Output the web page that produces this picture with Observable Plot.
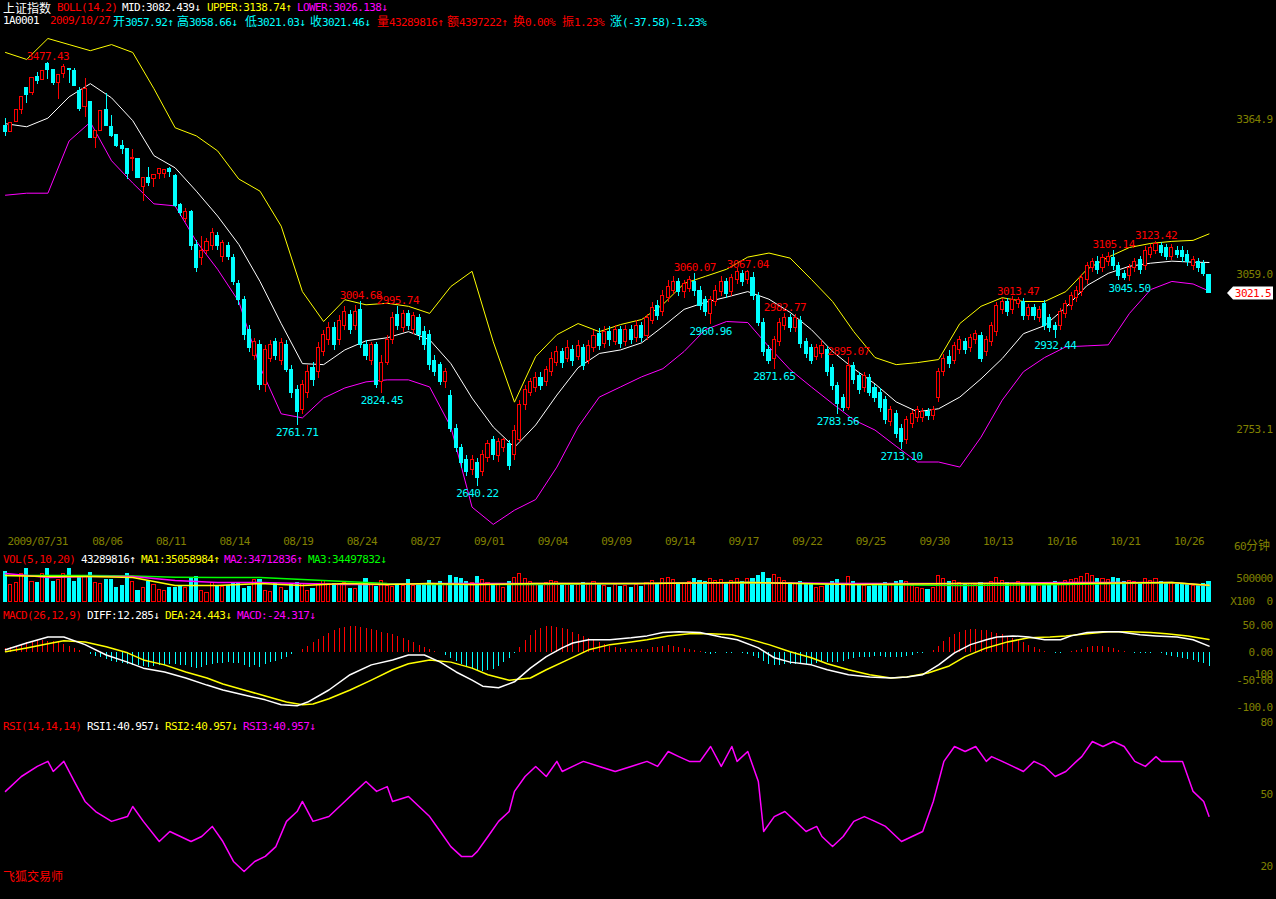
<!DOCTYPE html>
<html><head><meta charset="utf-8">
<script src="https://cdn.jsdelivr.net/npm/d3@7"></script>
<script src="https://cdn.jsdelivr.net/npm/@observablehq/plot@0.6"></script>
<style>
html,body{margin:0;padding:0;background:#000;overflow:hidden}
#root{position:relative;width:1276px;height:899px;background:#000;overflow:hidden}
.t{position:absolute;white-space:pre;font-family:"DejaVu Sans Mono",monospace;font-size:11px;letter-spacing:-0.6px;line-height:13px;height:13px}
.t .c{font-family:"Noto Sans CJK SC",sans-serif;font-size:12px;letter-spacing:0}
</style></head><body><div id="root"></div>
<script>
const RED="#ff0000", CYAN="#00ffff", YEL="#ffff00", MAG="#ff00ff", GRN="#00ff00", WHITE="#ffffff", OLIVE="#808000";

// ---------------- data (60-minute bars, 2009/07/31 .. 2009/10/27) ----------------
const open = [3352,3338.7,3358.5,3383.7,3427.2,3416,3447.6,3442.5,3472.8,3461,3435.8,3454.4,3463,3459,3421.3,3388.2,3398.2,3326.9,3342.1,3383,3350,3333.6,3312.4,3305.9,3286.1,3287.3,3231.2,3249.6,3247.7,3256.4,3256.4,3266.3,3253,
 3195,3169,3181,3116,3091,3106,3114,3134,
 3094,3114,3091,3039,3008,2949,2899,2919,2840,2893,
 2925,2889,2919,2870,2830,2791,2826,2874,2866,2905,
 2929,2953,2929,2958,2978,2957,2988,2919,2889,2919,
 2846,2885,2929,2978,2953,2980,2949,2972,2945,2939,
 2889,2880,2846,2820,2755,2716,2692,2673,2688,2669,
 2696,2732,2700,2716,2724,2702,2732,2801,2826,2834,
 2854,2846,2866,2885,2905,2893,2909,2897,2913,2889,
 2913,2941,2921,2945,2925,2949,2925,2949,2933,2957,
 2937,2968,2996,2984,3012,3027,3043,3024,3031,3043,
 3027,3008,2980,3004,3024,3043,3024,3047,3059,3047,
 3051,3016,2964,2909,2893,2925,2957,2972,2953,2968,
 2925,2913,2897,2901,2909,2874,2838,2815,2795,2878,
 2858,2834,2854,2834,2826,2811,2767,2783,2755,2732,
 2763,2775,2775,2787,2779,2815,2866,2897,2889,2909,
 2925,2913,2929,2937,2905,2925,2945,2988,3004,2988,
 3000,3004,2976,2992,2972,3000,2972,2957,2957,2980,
 2996,3012,3024,3047,3071,3083,3071,3083,3091,3075,
 3059,3055,3071,3087,3075,3098,3106,3114,3110,3094,
 3106,3106,3098,3075,3083,3079,3057.92];
const high = [3366,3357,3383,3409.4,3427.2,3447,3456.4,3459,3477.4,3461,3453,3472.2,3463,3464.9,3427.8,3445.7,3398.2,3342.1,3383,3414.8,3371.8,3333.6,3322.3,3306,3304.5,3288,3248.4,3269.4,3254.4,3266.3,3266.3,3269.4,3255,
 3199,3189,3185,3126,3134,3130,3150,3142,
 3126,3122,3098,3047,3016,2958,2933,2929,2919,2929,
 2933,2933,2929,2880,2840,2850,2880,2885,2925,2949,
 2964,2964,2978,2996,2988,2998,3004.68,2929,2925,2925,
 2899,2939,2984,2995.74,2988,2988,2984,2980,2957,2949,
 2899,2885,2874,2830,2763,2724,2702,2702,2696,2712,
 2732,2740,2736,2736,2732,2761,2811,2840,2854,2866,
 2866,2878,2905,2917,2913,2929,2919,2929,2921,2929,
 2949,2953,2957,2957,2958,2957,2958,2958,2968,2964,
 2980,3004,3008,3027,3047,3055,3051,3047,3055,3060.07,
 3035,3016,3016,3037,3055,3051,3059,3071,3067,3067.04,
 3063,3024,2972,2919,2937,2972,2982.77,2980,2980,2976,
 2933,2921,2921,2929,2917,2882,2846,2822,2895.07,2885,
 2866,2866,2862,2842,2834,2818,2799,2791,2763,2779,
 2791,2799,2795,2795,2799,2874,2901,2909,2925,2937,
 2933,2941,2949,2945,2937,2964,3004,3012,3012,3016,
 3013.47,3012,3000,3000,2996,3008,2980,2964,2992,3008,
 3024,3035,3059,3083,3091,3094,3098,3102,3105.14,3083,
 3067,3079,3091,3094,3114,3118,3123.42,3122,3118,3118,
 3114,3114,3106,3094,3091,3087,3058.66];
const low = [3330.2,3338.7,3358.5,3373.8,3396.2,3410.8,3432.6,3442.5,3442.5,3431.2,3402.9,3445.7,3434.6,3431.2,3379.7,3368.4,3328.8,3307.8,3342.1,3350,3328.8,3309,3296,3246.5,3261.5,3249,3203.5,3231.8,3229.8,3246.5,3247.7,3249.6,3190,
 3173,3162,3106,3063,3077,3098,3106,3106,
 3083,3087,3037,2998,2929,2905,2889,2830,2826,2885,
 2889,2880,2866,2815,2761.71,2783,2815,2838,2854,2897,
 2919,2909,2919,2949,2941,2949,2913,2889,2880,2834,
 2824.45,2880,2921,2949,2945,2949,2941,2929,2909,2870,
 2858,2840,2834,2747,2708,2676,2661,2663,2640.22,2661,
 2688,2692,2688,2708,2673,2692,2728,2791,2818,2826,
 2830,2838,2858,2878,2874,2885,2878,2889,2870,2882,
 2905,2909,2913,2917,2919,2913,2917,2921,2925,2925,
 2929,2960,2968,2976,3004,3020,3016,3012,3024,3016,
 2988,2976,2960.96,2996,3016,3012,3016,3039,3035,3039,
 3008,2956,2897,2882,2871.65,2917,2949,2945,2945,2913,
 2893,2882,2889,2893,2858,2830,2783.56,2789,2791,2842,
 2822,2826,2818,2807,2787,2763,2759,2736,2713.10,2724,
 2755,2767,2767,2771,2771,2807,2858,2874,2882,2901,
 2901,2905,2921,2885,2897,2917,2937,2980,2976,2980,
 2992,2968,2968,2968,2964,2949,2945,2932.44,2949,2972,
 2988,3004,3016,3039,3063,3059,3063,3075,3067,3047,
 3047,3045.50,3063,3059,3067,3091,3098,3094,3087,3087,
 3091,3083,3075,3067,3063,3055,3021.03];
const close = [3340,3356.5,3383,3409.4,3413.4,3447,3441,3459,3462.3,3435.8,3453,3468.8,3461.5,3431.2,3385,3424.7,3328.8,3342.1,3381.7,3352,3332.2,3312.4,3307,3257.5,3289.2,3249.6,3248.4,3239.7,3254.4,3266.3,3264.9,3261.5,3193.6,
 3179,3181,3114,3071,3106,3122,3140,3114,
 3120,3094,3043,3008,2939,2913,2925,2840,2909,2919,
 2899,2923,2870,2826,2787,2840,2866,2850,2913,2939,
 2953,2919,2968,2984,2949,2984,2919,2899,2919,2840,
 2885,2929,2972,2958,2980,2957,2976,2939,2919,2880,
 2866,2846,2866,2755,2716,2688,2669,2692,2657,2702,
 2724,2702,2728,2732,2682,2751,2801,2830,2846,2854,
 2838,2870,2893,2905,2885,2913,2889,2917,2878,2917,
 2937,2917,2945,2929,2949,2921,2949,2929,2958,2933,
 2972,2992,2976,3016,3035,3043,3024,3039,3047,3027,
 2996,2984,3008,3027,3043,3020,3051,3063,3043,3063,
 3016,2964,2905,2889,2929,2964,2972,2953,2972,2921,
 2901,2889,2913,2917,2866,2838,2803,2795,2878,2850,
 2830,2858,2826,2815,2795,2771,2791,2744,2728,2771,
 2783,2791,2787,2779,2791,2866,2893,2882,2917,2929,
 2909,2933,2941,2893,2929,2957,2996,3004,2984,3008,
 3008,2976,2992,2976,2988,2957,2953,2949,2984,3000,
 3016,3027,3051,3075,3083,3067,3091,3094,3075,3055,
 3051,3071,3083,3067,3106,3110,3118,3102,3094,3110,
 3098,3094,3083,3087,3071,3059,3021.46];
// volume in lots of 100 shares
const volume = [652e3,348e3,413e3,587e3,696e3,420e3,413e3,594e3,717e3,420e3,478e3,587e3,696e3,420e3,515e3,529e3,616e3,398e3,370e3,471e3,
 457e3,290e3,341e3,587e3,420e3,239e3,283e3,428e3,348e3,254e3,239e3,283e3,283e3,326e3,283e3,515e3,522e3,239e3,188e3,413e3,
 341e3,326e3,341e3,413e3,413e3,261e3,326e3,457e3,457e3,239e3,210e3,370e3,283e3,225e3,370e3,413e3,384e3,239e3,261e3,384e3,
 435e3,370e3,370e3,370e3,413e3,261e3,261e3,362e3,500e3,355e3,326e3,435e3,341e3,319e3,341e3,341e3,478e3,334e3,334e3,
 380e3,450e3,390e3,420e3,350e3,560e3,520e3,480e3,430e3,400e3,540e3,470e3,
 400e3,350e3,380e3,300e3,420e3,520e3,600e3,480e3,420e3,380e3,
 350e3,400e3,450e3,420e3,330e3,380e3,340e3,360e3,400e3,380e3,420e3,350e3,
 330e3,300e3,350e3,320e3,340e3,300e3,360e3,320e3,400e3,450e3,380e3,480e3,
 520e3,460e3,400e3,380e3,420e3,500e3,450e3,420e3,480e3,440e3,460e3,400e3,450e3,480e3,420e3,500e3,
 480e3,560e3,620e3,500e3,580e3,520e3,450e3,400e3,380e3,420e3,380e3,360e3,300e3,320e3,380e3,420e3,460e3,380e3,540e3,420e3,
 360e3,340e3,320e3,330e3,350e3,400e3,380e3,420e3,450e3,430e3,330e3,300e3,280e3,260e3,290e3,560e3,500e3,420e3,440e3,400e3,
 360e3,380e3,350e3,400e3,380e3,420e3,520e3,440e3,400e3,380e3,420e3,400e3,360e3,340e3,330e3,380e3,360e3,420e3,400e3,440e3,
 460e3,480e3,540e3,600e3,560e3,480e3,500e3,460e3,520e3,480e3,420e3,440e3,420e3,400e3,480e3,450e3,500e3,420e3,380e3,400e3,360e3,380e3,360e3,340e3,330e3,380e3,432.9e3];

const bollBars = [0,4,8,12,16,20,24,28,32,36,40,44,48,52,56,60,64,68,72,76,80,84,88,92,96,100,104,108,112,116,120,124,128,132,136,140,144,148,152,156,160,164,168,172,176,180,184,188,192,196,200,204,208,212,216,220,224,227];
const bollUpper = [3496.5,3482.7,3524,3512,3500,3512,3496.5,3425,3348,3332,3302.5,3247,3223,3154,3025,2966,3009,2999,3002,2996,2982,3035,3065,2926,2807,2897,2940,2962,2946,2960,2970,2999.6,3041,3055,3069,3093,3101,3091,3049,3005.5,2946,2895,2881,2885,2891,2962,2996,3013,3005.5,3005.5,3025,3069,3093,3112,3120,3124,3126,3138.7];
const bollMid = [3356,3350,3367,3409,3435,3407,3362,3293,3269,3223,3174,3118,3045,2962,2883,2881,2910,2928,2934,2946,2930,2883,2815,2758,2718,2762,2821,2875,2903,2910,2924,2956,2990,3004,3014,3025,3010,2984,2950,2907,2873,2843,2807.5,2788,2794,2817,2853,2893,2942,2958,2994,3037,3061,3075,3081,3085,3083,3082.4];
const bollLower = [3215,3219,3219,3322,3359,3283,3239,3198,3194,3124,3069,3005.5,2877,2784,2776,2815,2835,2847,2851,2851,2837,2758,2600,2566,2594,2615,2679,2758,2817,2837,2857,2873,2907,2950,2966,2964,2916,2871,2837,2804,2772,2752,2720,2689,2689,2679,2738,2811,2867,2895,2916,2918,2920,2982,3029,3045,3040,3026.1];

const volMaBars = [0,8,16,24,32,40,48,56,64,72,80,88,100,120,140,160,180,200,220,227];
const volMa1 = [565e3,544e3,544e3,522e3,348e3,348e3,391e3,348e3,391e3,370e3,391e3,370e3,391e3,391e3,413e3,370e3,391e3,391e3,413e3,350.6e3];
const volMa2 = [609e3,522e3,544e3,544e3,457e3,413e3,413e3,391e3,370e3,370e3,391e3,391e3,391e3,391e3,413e3,391e3,391e3,413e3,413e3,347.1e3];
const volMa3 = [565e3,565e3,565e3,554e3,528e3,522e3,522e3,478e3,435e3,391e3,370e3,370e3,370e3,391e3,413e3,370e3,348e3,370e3,413e3,345e3];

// MACD histogram, one value per bar
const macdHist = [8,10,12,15,18,20,22,22,21,20,18,15,12,8,4,1,
 -3,-6,-9,-12,-15,-18,-20,-22,-23,-24,-25,-26,-25,-24,-24,-22,-22,-23,-24,-26,-28,-26,-24,-22,-20,-19,-18,-19,-20,-24,-26,-24,-26,-22,-18,-15,-12,-8,
 -3,0,6,12,18,24,30,36,40,44,47,48,49,47,45,42,40,38,36,34,30,26,22,18,14,10,6,3,0,
 -5,-10,-16,-22,-27,-30,-33,-35,-33,-30,-25,-18,-10,
 -2,10,22,32,40,45,48,48,47,45,42,38,34,30,26,22,18,
 15,12,10,8,7,6,6,6,7,9,10,12,13,12,10,8,6,4,2,
 -1,-3,-2,0,-2,-1,0,-2,-3,-6,
 -10,-16,-22,-24,-24,-22,-22,-21,-22,-22,-21,-19,-17,-17,-18,-18,-16,-12,-10,-9,-8,-8,-7,-7,-8,-8,-8,-8,-6,-4,-2,-1,0,
 4,12,20,28,34,38,40,42,42,40,40,38,36,34,30,26,22,18,14,10,6,
 3,0,-2,-2,0,2,4,7,10,12,12,12,10,8,5,2,0,-1,-2,-2,-1,0,-2,-4,-6,-8,-10,-12,-14,-17,-20,-24.317];
const macdBars = [0,4,8,11,15,19,23,26,30,34,38,41,45,49,52,55,57,61,65,69,73,76,79,82,85,88,90,93,96,99,102,105,107,110,114,118,121,124,127,131,135,138,142,145,148,152,155,159,163,167,170,173,176,179,182,185,187,190,193,196,199,201,204,207,210,214,217,221,224,227];
const diff = [5.5,18,29,29,15,-4,-17,-28,-35,-46,-59,-68,-77,-86,-95,-97,-90,-68,-40,-22,-13,-4,-4,-17,-35,-50,-61,-64,-53,-28,-7,9,18,24,24,27.5,31,37,38.5,37,29,24,9,-9,-17,-22,-31,-40,-44,-46,-44,-40,-22,0,15,24,29,31,29,24,24,31,37,38.5,38.5,33,31,29,24,12.285];
const deaBars = [0,4,8,11,15,19,23,26,30,34,38,41,45,49,53,56,58,61,65,69,73,76,80,84,88,91,95,99,102,106,110,114,118,121,125,129,133,137,140,144,148,152,155,159,163,167,170,174,178,181,185,189,193,197,200,204,208,212,216,219,223,227];
const dea = [2,9,16.5,22,20,11,0,-13,-22,-35,-46,-57,-68,-79,-90,-95,-93.6,-84,-68,-50,-31,-20,-13,-17,-28,-40,-50,-46,-31,-13,5.5,15,20,24,31,35,35,33,26,15,2,-9,-20,-31,-40,-46,-44,-37,-24,-7,9,20,27.5,29,31,35,38.5,38.5,37,35,31,24.443];

const rsiBars = [0,3,6,8,9,11,13,15,17,20,23,24,26,29,31,33,35,37,39,41,43,45,47,49,51,53,55,56,58,61,64,66,68,70,72,73,76,78,80,82,84,86,88,89,91,93,95,96,98,100,102,104,105,107,109,112,115,118,121,123,125,127,129,131,133,135,137,138,140,142,143,145,147,149,151,153,154,156,158,160,162,164,166,168,169,171,173,175,177,179,181,183,185,186,188,190,192,194,196,198,200,202,203,205,207,209,211,213,215,217,218,220,222,224,226,227];
const rsi = [51.3,57.5,61.7,63.8,59.6,63.8,55.4,47.1,42.9,38.8,40.8,45,38.8,30.4,34.6,32.5,30.4,32.5,36.7,30.4,22.1,17.9,22.1,24.2,28.3,38.8,42.9,47.1,38.8,40.8,47.1,51.3,55.4,51.3,53.3,47.1,49.2,45,40.8,34.6,28.3,24.2,24.2,26.3,32.5,38.8,42.9,51.3,57.5,61.7,57.5,63.8,59.6,61.7,63.8,61.7,59.6,61.7,63.8,61.7,67.9,65.8,63.8,63.8,70,61.7,70,63.8,67.9,55.4,34.6,40.8,42.9,38.8,34.6,36.7,32.5,28.3,32.5,38.8,40.8,38.8,36.7,32.5,30.4,32.5,34.6,47.1,63.8,70,67.9,70,63.8,65.8,63.8,61.7,59.6,63.8,61.7,57.5,59.6,63.8,65.8,72.1,70,72.1,70,63.8,61.7,65.8,63.8,63.8,63.8,51.3,47.1,40.957];

const extremeBars = [8,55,67,74,71,89,130,140,133,147,145,159,157,169,191,198,209,217,212];
const extremeVals = [3477.43,2761.71,3004.68,2995.74,2824.45,2640.22,3060.07,3067.04,2960.96,2982.77,2871.65,2895.07,2783.56,2713.10,3013.47,2932.44,3105.14,3123.42,3045.50];
const extremeIsHigh = [true,false,true,true,false,false,true,true,false,true,false,true,false,false,true,false,true,true,false];

const dateLabels = ["2009/07/31","08/06","08/11","08/14","08/19","08/24","08/27","09/01","09/04","09/09","09/14","09/17","09/22","09/25","09/30","10/13","10/16","10/21","10/26"];
const dateBars = [0,16,28,40,52,64,76,88,100,112,124,136,148,160,172,184,196,208,220];
const priceTicks = [3364.9, 3059.0, 2753.1];
const lastClose = 3021.46;
const volTicks = [500000, 0];
const macdTicks = [50, 0, -50, -100];
const rsiTicks = [100, 80, 50, 20];

// ---------------- layout ----------------
const root = document.getElementById("root");
const W = 1276;
const xOpt = {type:"linear", domain:[0,227], range:[5,1208.5], axis:null};
const FONT = {fontFamily:"DejaVu Sans Mono", fontSize:11};
const baseStyle = {background:"transparent", overflow:"visible", letterSpacing:"-0.6px"};

function place(svg, top){
  svg.style.position="absolute"; svg.style.left="0px"; svg.style.top=top+"px";
  root.appendChild(svg);
}
function addText(x, yc, color, s){
  const d=document.createElement("div"); d.className="t";
  d.style.left=x+"px"; d.style.top=(yc-6.5)+"px"; d.style.color=color;
  d.innerHTML=s.replace(/[\u2E80-\u9FFF\uFF00-\uFFEF]/g, ch=>`<span class="c">${ch}</span>`);
  root.appendChild(d);
}

const candles = open.map((o,i)=>({i, o, h:high[i], l:low[i], c:close[i], up: close[i]>=o}));
const boll = bollBars.map((b,k)=>({b, u:bollUpper[k], m:bollMid[k], l:bollLower[k]}));
const vols = volume.map((v,i)=>({i, v, up: candles[i].up}));
const volMa = volMaBars.map((b,k)=>({b, a:volMa1[k], m:volMa2[k], g:volMa3[k]}));
const hist = macdHist.map((v,i)=>({i, v}));
const extremes = extremeBars.map((b,k)=>({b, v:extremeVals[k], hi:extremeIsHigh[k]}));

// price panel
const TOP_P=28, H_P=524;
place(Plot.plot({
  width:W, height:H_P, margin:0, marginRight:4,
  x:xOpt, y:{domain:[2753.1,3364.9], range:[429-TOP_P,118.7-TOP_P], axis:null},
  style:baseStyle,
  marks:[
    Plot.line(boll, {x:"b", y:"u", stroke:YEL, strokeWidth:1}),
    Plot.line(boll, {x:"b", y:"m", stroke:WHITE, strokeWidth:1}),
    Plot.line(boll, {x:"b", y:"l", stroke:MAG, strokeWidth:1}),
    Plot.ruleX(candles, {x:"i", y1:"l", y2:"h", stroke:d=>d.up?RED:CYAN, shapeRendering:"crispEdges"}),
    Plot.rect(candles, {x1:d=>d.i-0.5, x2:d=>d.i+0.5, y1:"o", y2:"c", insetLeft:1.1, insetRight:1.1,
      fill:d=>d.up?"#000":CYAN, stroke:d=>d.up?RED:CYAN, shapeRendering:"crispEdges"}),
    Plot.text(extremes.filter(d=>d.hi), {x:"b", y:"v", text:d=>d.v.toFixed(2), fill:RED, dy:-6, ...FONT}),
    Plot.text(extremes.filter(d=>!d.hi), {x:"b", y:"v", text:d=>d.v.toFixed(2), fill:CYAN, dy:7, ...FONT}),
    Plot.text(priceTicks, {y:d=>d, text:d=>d.toFixed(1), frameAnchor:"right", textAnchor:"end", fill:OLIVE, ...FONT}),
    Plot.text(dateBars, {x:d=>d, text:(d,k)=>dateLabels[k], frameAnchor:"bottom", textAnchor:"start", dx:2, dy:-8, fill:OLIVE, ...FONT}),
    (index, scales, values, dims) => {
      const y = scales.y(lastClose), R = dims.width - 3;
      const g = d3.create("svg:g");
      g.append("path").attr("d",`M${R-46},${y} L${R-40},${y-6.5} L${R},${y-6.5} L${R},${y+6.5} L${R-40},${y+6.5} Z`).attr("fill","#fff");
      g.append("text").attr("x",R-2).attr("y",y).attr("dy","0.35em").attr("text-anchor","end")
        .attr("fill",RED).attr("font-family","DejaVu Sans Mono").attr("font-size",11).text(lastClose.toFixed(1));
      return g.node();
    }
  ]
}), TOP_P);

// volume panel
const TOP_V=565, H_V=40;
place(Plot.plot({
  width:W, height:H_V, margin:0, marginRight:4,
  x:xOpt, y:{domain:[0,500000], range:[601-TOP_V,578-TOP_V], axis:null},
  style:baseStyle,
  marks:[
    Plot.rect(vols, {x1:d=>d.i-0.5, x2:d=>d.i+0.5, y1:()=>0, y2:"v", insetLeft:1.1, insetRight:1.1,
      fill:d=>d.up?"#000":CYAN, stroke:d=>d.up?RED:CYAN, shapeRendering:"crispEdges"}),
    Plot.line(volMa, {x:"b", y:"g", stroke:GRN}),
    Plot.line(volMa, {x:"b", y:"m", stroke:MAG}),
    Plot.line(volMa, {x:"b", y:"a", stroke:YEL}),
    Plot.text(volTicks, {y:d=>d, text:d=>d===0?"X100  0":String(d), frameAnchor:"right", textAnchor:"end", fill:OLIVE, ...FONT})
  ]
}), TOP_V);

// MACD panel
const TOP_M=618, H_M=95;
const diffD = macdBars.map((b,k)=>({b, v:diff[k]}));
const deaD = deaBars.map((b,k)=>({b, v:dea[k]}));
place(Plot.plot({
  width:W, height:H_M, margin:0, marginRight:4,
  x:xOpt, y:{domain:[-100,50], range:[707-TOP_M,625-TOP_M], axis:null},
  style:baseStyle,
  marks:[
    Plot.ruleX(hist, {x:"i", y1:()=>0, y2:"v", stroke:d=>d.v>=0?RED:CYAN, shapeRendering:"crispEdges"}),
    Plot.line(deaD, {x:"b", y:"v", stroke:YEL}),
    Plot.line(diffD, {x:"b", y:"v", stroke:WHITE}),
    Plot.text(macdTicks, {y:d=>d, text:d=>d===-100?"-100.0":d.toFixed(2), frameAnchor:"right", textAnchor:"end", fill:OLIVE, ...FONT})
  ]
}), TOP_M);

// RSI panel
const TOP_R=660, H_R=230;
const rsiD = rsiBars.map((b,k)=>({b, v:rsi[k]}));
place(Plot.plot({
  width:W, height:H_R, margin:0, marginRight:4,
  x:xOpt, y:{domain:[20,80], range:[866-TOP_R,722-TOP_R], axis:null},
  style:baseStyle,
  marks:[
    Plot.line(rsiD, {x:"b", y:"v", stroke:MAG}),
    Plot.text(rsiTicks, {y:d=>d, text:d=>String(d), frameAnchor:"right", textAnchor:"end", fill:OLIVE, ...FONT})
  ]
}), TOP_R);

// texts
const texts = [
 [3,7.5,WHITE,"上证指数"],[57,7.5,RED,"BOLL(14,2)"],[122,7.5,WHITE,"MID:3082.439↓"],[207,7.5,YEL,"UPPER:3138.74↑"],[297,7.5,MAG,"LOWER:3026.138↓"],
 [3,20.5,WHITE,"1A0001"],[50,20.5,RED,"2009/10/27"],[113,20.5,CYAN,"开3057.92↑"],[177,20.5,CYAN,"高3058.66↓"],[245,20.5,CYAN,"低3021.03↓"],[310,20.5,CYAN,"收3021.46↓"],
 [377,20.5,RED,"量43289816↑"],[447,20.5,RED,"额4397222↑"],[513,20.5,RED,"换0.00%"],[562,20.5,RED,"振1.23%"],[610,20.5,CYAN,"涨(-37.58)-1.23%"],
 [1234,544,OLIVE,"60分钟"],
 [3,559,RED,"VOL(5,10,20)"],[81,559,WHITE,"43289816↑"],[141,559,YEL,"MA1:35058984↑"],[224,559,MAG,"MA2:34712836↑"],[308,559,GRN,"MA3:34497832↓"],
 [3,615,RED,"MACD(26,12,9)"],[87,615,WHITE,"DIFF:12.285↓"],[165,615,YEL,"DEA:24.443↓"],[237,615,MAG,"MACD:-24.317↓"],
 [3,726,RED,"RSI(14,14,14)"],[87,726,WHITE,"RSI1:40.957↓"],[165,726,YEL,"RSI2:40.957↓"],[243,726,MAG,"RSI3:40.957↓"],
 [3,875,RED,"飞狐交易师"]
];
texts.forEach(t=>addText(...t));
</script></body></html>
